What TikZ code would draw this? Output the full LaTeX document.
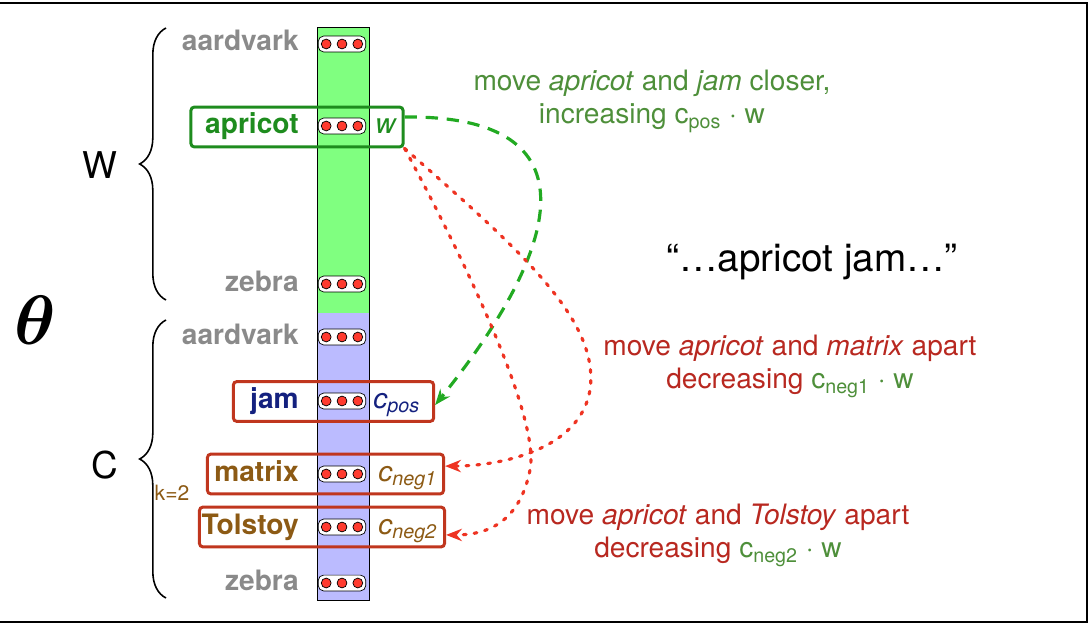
\documentclass[tikz,border=0pt]{standalone}
\usepackage{fontspec}
\setmainfont{TeX Gyre Heros}
\usepackage{bm}
\usetikzlibrary{arrows.meta,decorations.pathreplacing,positioning}
\tikzset{>={Stealth[length=9pt,width=7pt]}}
\definecolor{colgreen}{RGB}{128,255,128}
\definecolor{collav}{RGB}{187,187,255}
\definecolor{dotred}{RGB}{255,59,47}
\definecolor{grayword}{RGB}{138,138,138}
\definecolor{aprgreen}{RGB}{30,140,30}
\definecolor{wordblue}{RGB}{20,33,127}
\definecolor{wordbrown}{RGB}{140,90,20}
\definecolor{boxred}{RGB}{192,54,30}
\definecolor{txtgreen}{RGB}{78,143,58}
\definecolor{txtred}{RGB}{184,40,32}
\definecolor{arrgreen}{RGB}{34,170,34}
\definecolor{arrred}{RGB}{238,51,34}

\begin{document}
\begin{tikzpicture}[x=0.02cm,y=-0.02cm,
    chip/.style={draw, fill=white, rounded corners=3pt, minimum width=27pt, minimum height=9pt, inner sep=0pt},
    word/.style={anchor=base east, inner sep=0pt, font=\bfseries\fontsize{16}{18}\selectfont},
    vlabel/.style={anchor=base west, inner sep=0pt, font=\itshape\fontsize{16}{18}\selectfont},
    wbox/.style={draw, line width=1.7pt, rounded corners=2pt, minimum height=22.7pt, inner sep=0pt},
    note/.style={align=center, font=\fontsize{16}{19}\selectfont},
    brc/.style={decorate, decoration={brace, amplitude=15pt}, line width=0.9pt},
    garrow/.style={arrgreen, line width=1.8pt, dash pattern=on 7pt off 5pt},
    rarrow/.style={arrred, line width=1.8pt, line cap=round, dash pattern=on 1.6pt off 4.6pt}]
  \useasboundingbox (0,0) rectangle (1091,625);
  \draw[line width=0.8pt] (-5,3) rectangle (1087,622);

  % embedding matrix
  \fill[colgreen] (317,27) rectangle (369,313);
  \fill[collav] (317,313) rectangle (369,600);
  \draw (317,27) rectangle (369,600);

  \node[wbox, draw=aprgreen, minimum width=120.8pt] (aprbox) at (297,127) {};
  \node[wbox, draw=boxred, minimum width=114pt] (jambox) at (333.5,401.5) {};
  \node[wbox, draw=boxred, minimum width=134.4pt] (matbox) at (325.5,474) {};
  \node[wbox, draw=boxred, minimum width=139.5pt] (tolbox) at (322,527) {};

  \foreach \nm/\yy in {wa/44,wap/126,wz/284,ca/337,cj/401,cm/474,ct/527,cz/583}{
    \node[chip] (\nm) at (342,\yy) {};
    \foreach \dx in {-9pt,0pt,9pt}
      \filldraw[fill=dotred, line width=0.4pt] ([xshift=\dx]\nm.center) circle (2.8pt);
  }

  \node[word, text=grayword] (lwa) at (299,51) {aardvark};
  \node[word, text=aprgreen] (lwap) at (299,133) {apricot};
  \node[word, text=grayword] (lwz) at (299,291) {zebra};
  \node[word, text=grayword] (lca) at (299,344) {aardvark};
  \node[word, text=wordblue] (lcj) at (299,408) {jam};
  \node[word, text=wordbrown] (lcm) at (299,481) {matrix};
  \node[word, text=wordbrown] (lct) at (299,534) {Tolstoy};
  \node[word, text=grayword] (lcz) at (299,590) {zebra};

  \node[vlabel, text=aprgreen] (vw) at (375,133) {w};
  \node[vlabel, text=wordblue] (vpos) at (373,408) {c\textsubscript{pos}};
  \node[vlabel, text=wordbrown] (vneg1) at (378,481) {c\textsubscript{neg1}};
  \node[vlabel, text=wordbrown] (vneg2) at (378,534) {c\textsubscript{neg2}};

  % braces
  \draw[brc] (166,300) -- (166,28);
  \draw[brc] (166,598) -- (166,320);
  \node[font=\fontsize{21}{24}\selectfont] (wlab) at (100,165) {W};
  \node[font=\fontsize{21}{24}\selectfont] (clab) at (105,465) {C};
  \node[text=wordbrown, font=\fontsize{12}{14}\selectfont] (klab) at (172,493) {k=2};
  \node[font=\Huge, scale=1.6] (theta) at (35,320) {$\bm{\theta}$};

  \node[font=\fontsize{22}{26}\selectfont] (quote) at (812,262) {“…apricot jam…”};

  \node[note, text=txtgreen] (gnote) at (652,101) {move \textit{apricot} and \textit{jam} closer,\\increasing c\textsubscript{pos} · w};
  \node[note, text=txtred] (rnote1) at (790,366) {move \textit{apricot} and \textit{matrix} apart\\decreasing {\color{txtgreen}c\textsubscript{neg1} · w}};
  \node[note, text=txtred] (rnote2) at (718,535) {move \textit{apricot} and \textit{Tolstoy} apart\\decreasing {\color{txtgreen}c\textsubscript{neg2} · w}};

  \draw[garrow, ->] ([yshift=5.7pt]aprbox.east) .. controls (600,115) and (560,250) .. ([yshift=-2pt]jambox.east);
  \draw[rarrow, ->] (aprbox.south east) .. controls (520,250) and (600,320) .. (590,390) .. controls (580,450) and (500,466) .. ([yshift=4.5pt]matbox.east);
  \draw[rarrow, ->] (aprbox.south east) .. controls (470,270) and (540,420) .. (530,470) .. controls (520,520) and (490,535) .. ([yshift=-4.5pt]tolbox.east);
\end{tikzpicture}
\end{document}
